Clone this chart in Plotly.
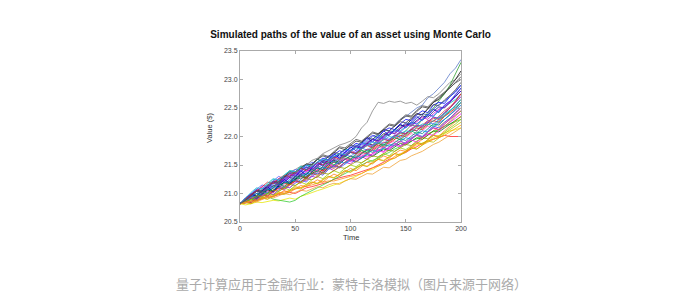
import plotly.graph_objects as go

time_steps = [0, 5, 10, 15, 20, 25, 30, 35, 40, 45, 50, 55, 60, 65, 70, 75, 80, 85, 90, 95,
              100, 105, 110, 115, 120, 125, 130, 135, 140, 145, 150, 155, 160, 165, 170, 175,
              180, 185, 190, 195, 200]

path_01 = [20.82, 20.86, 20.93, 20.97, 21.05, 21.02, 21.1, 21.18, 21.22, 21.3,
           21.27, 21.35, 21.42, 21.4, 21.5, 21.55, 21.6, 21.68, 21.65, 21.72,
           21.8, 21.85, 21.82, 21.92, 22.0, 22.05, 22.12, 22.1, 22.2, 22.3,
           22.35, 22.42, 22.5, 22.55, 22.68, 22.75, 22.85, 22.95, 23.1, 23.2, 23.35]
path_02 = [20.82, 20.88, 20.95, 21.0, 21.08, 21.12, 21.2, 21.25, 21.3, 21.38,
           21.42, 21.48, 21.5, 21.58, 21.62, 21.7, 21.75, 21.8, 21.85, 21.88,
           21.92, 22.0, 22.15, 22.25, 22.45, 22.6, 22.58, 22.62, 22.6, 22.62,
           22.58, 22.6, 22.55, 22.62, 22.7, 22.68, 22.75, 22.85, 22.95, 23.0, 23.1]
path_03 = [20.82, 20.84, 20.92, 20.9, 20.98, 21.06, 21.04, 21.12, 21.2, 21.16,
           21.25, 21.32, 21.28, 21.38, 21.45, 21.42, 21.52, 21.58, 21.55, 21.65,
           21.72, 21.7, 21.8, 21.88, 21.85, 21.95, 22.05, 22.02, 22.12, 22.2,
           22.18, 22.3, 22.4, 22.38, 22.5, 22.6, 22.65, 22.75, 22.88, 23.0, 23.15]
path_04 = [20.82, 20.88, 20.85, 20.94, 21.0, 20.98, 21.06, 21.12, 21.1, 21.18,
           21.24, 21.2, 21.3, 21.36, 21.34, 21.42, 21.5, 21.46, 21.55, 21.62,
           21.6, 21.68, 21.75, 21.72, 21.8, 21.88, 21.85, 21.95, 22.02, 22.0,
           22.1, 22.2, 22.18, 22.3, 22.42, 22.5, 22.62, 22.75, 22.9, 23.1, 23.3]
path_05 = [20.82, 20.83, 20.85, 20.88, 20.9, 20.92, 20.95, 20.98, 21.0, 21.02,
           21.0, 21.05, 21.1, 21.12, 21.15, 21.18, 21.2, 21.25, 21.28, 21.3,
           21.32, 21.35, 21.38, 21.42, 21.45, 21.5, 21.55, 21.6, 21.62, 21.68,
           21.72, 21.78, 21.82, 21.88, 21.92, 21.95, 21.98, 22.02, 22.0, 22.0, 22.0]
path_06 = [20.82, 20.8, 20.82, 20.85, 20.84, 20.86, 20.88, 20.87, 20.9, 20.92,
           20.9, 20.95, 20.98, 21.02, 21.05, 21.08, 21.12, 21.15, 21.18, 21.22,
           21.25, 21.3, 21.35, 21.4, 21.42, 21.48, 21.52, 21.58, 21.62, 21.68,
           21.75, 21.8, 21.85, 21.88, 21.92, 21.98, 22.02, 22.05, 22.1, 22.12, 22.15]
path_07 = [20.82, 20.86, 20.9, 20.88, 20.92, 20.95, 20.9, 20.88, 20.86, 20.85,
           20.88, 20.95, 21.0, 21.05, 21.1, 21.15, 21.2, 21.25, 21.3, 21.35,
           21.4, 21.45, 21.5, 21.55, 21.58, 21.62, 21.68, 21.72, 21.78, 21.82,
           21.88, 21.92, 21.95, 22.0, 22.05, 22.08, 22.12, 22.18, 22.22, 22.25, 22.3]
path_08 = [20.82, 20.84, 20.86, 20.9, 20.92, 20.95, 20.98, 21.0, 21.02, 21.05,
           21.08, 21.1, 21.12, 21.15, 21.18, 21.2, 21.22, 21.22, 21.25, 21.28,
           21.3, 21.32, 21.35, 21.4, 21.45, 21.48, 21.52, 21.58, 21.65, 21.7,
           21.72, 21.8, 21.88, 21.95, 22.02, 22.1, 22.18, 22.25, 22.32, 22.42, 22.5]
path_09 = [20.82, 20.9, 20.95, 21.05, 21.02, 21.1, 21.2, 21.18, 21.28, 21.35,
           21.32, 21.42, 21.5, 21.45, 21.55, 21.62, 21.58, 21.68, 21.75, 21.72,
           21.8, 21.88, 21.85, 21.95, 22.02, 21.98, 22.1, 22.15, 22.12, 22.22,
           22.3, 22.28, 22.38, 22.45, 22.42, 22.55, 22.6, 22.58, 22.7, 22.78, 22.9]
path_10 = [20.82, 20.88, 20.85, 20.92, 20.98, 20.95, 21.05, 21.1, 21.06, 21.15,
           21.22, 21.18, 21.25, 21.3, 21.28, 21.38, 21.45, 21.4, 21.48, 21.55,
           21.52, 21.6, 21.65, 21.6, 21.7, 21.78, 21.74, 21.82, 21.88, 21.84,
           21.9, 21.98, 22.02, 21.98, 22.08, 22.15, 22.12, 22.22, 22.3, 22.38, 22.45]
path_11 = [20.82, 20.92, 20.98, 21.08, 21.05, 21.15, 21.25, 21.22, 21.32, 21.4,
           21.38, 21.48, 21.45, 21.52, 21.6, 21.56, 21.65, 21.62, 21.7, 21.78,
           21.75, 21.82, 21.9, 21.86, 21.95, 22.02, 21.98, 22.05, 22.12, 22.1,
           22.18, 22.25, 22.22, 22.3, 22.38, 22.35, 22.45, 22.52, 22.58, 22.65, 22.75]
path_12 = [20.82, 20.85, 20.92, 20.9, 20.98, 21.05, 21.02, 21.1, 21.18, 21.15,
           21.22, 21.3, 21.28, 21.35, 21.42, 21.4, 21.48, 21.55, 21.52, 21.6,
           21.65, 21.62, 21.7, 21.78, 21.75, 21.82, 21.9, 21.88, 21.95, 22.02,
           22.0, 22.08, 22.15, 22.12, 22.2, 22.28, 22.25, 22.35, 22.42, 22.5, 22.6]
path_13 = [20.82, 20.88, 20.95, 20.92, 21.0, 21.08, 21.05, 21.12, 21.2, 21.18,
           21.25, 21.3, 21.26, 21.35, 21.4, 21.36, 21.45, 21.5, 21.46, 21.55,
           21.6, 21.56, 21.62, 21.68, 21.65, 21.72, 21.78, 21.75, 21.82, 21.88,
           21.85, 21.92, 21.98, 21.95, 22.02, 22.1, 22.08, 22.15, 22.22, 22.28, 22.35]
path_14 = [20.82, 20.86, 20.94, 21.0, 20.98, 21.06, 21.14, 21.12, 21.2, 21.28,
           21.25, 21.34, 21.42, 21.38, 21.48, 21.55, 21.52, 21.6, 21.68, 21.65,
           21.74, 21.82, 21.78, 21.88, 21.95, 21.92, 22.0, 22.08, 22.05, 22.14,
           22.22, 22.2, 22.28, 22.36, 22.34, 22.44, 22.52, 22.5, 22.6, 22.72, 22.85]
path_15 = [20.82, 20.85, 20.82, 20.88, 20.92, 20.9, 20.96, 21.02, 21.0, 21.06,
           21.12, 21.1, 21.16, 21.2, 21.18, 21.25, 21.3, 21.28, 21.34, 21.4,
           21.38, 21.45, 21.5, 21.48, 21.55, 21.6, 21.58, 21.65, 21.7, 21.68,
           21.75, 21.8, 21.78, 21.85, 21.9, 21.95, 21.98, 22.02, 22.08, 22.14, 22.2]
path_16 = [20.82, 20.9, 20.98, 20.95, 21.05, 21.12, 21.1, 21.2, 21.28, 21.25,
           21.35, 21.4, 21.38, 21.46, 21.52, 21.5, 21.58, 21.65, 21.62, 21.7,
           21.76, 21.72, 21.8, 21.86, 21.84, 21.92, 21.98, 21.95, 22.02, 22.08,
           22.05, 22.12, 22.2, 22.18, 22.26, 22.34, 22.32, 22.42, 22.5, 22.6, 22.7]
path_17 = [20.82, 20.88, 20.85, 20.95, 21.02, 21.0, 21.1, 21.15, 21.12, 21.22,
           21.3, 21.26, 21.35, 21.4, 21.36, 21.45, 21.52, 21.48, 21.58, 21.62,
           21.6, 21.68, 21.72, 21.7, 21.78, 21.82, 21.8, 21.88, 21.92, 21.9,
           21.98, 22.05, 22.02, 22.1, 22.18, 22.15, 22.22, 22.3, 22.38, 22.45, 22.55]
path_18 = [20.82, 20.9, 20.98, 20.96, 21.06, 21.15, 21.12, 21.22, 21.3, 21.28,
           21.38, 21.45, 21.42, 21.52, 21.6, 21.56, 21.65, 21.72, 21.7, 21.78,
           21.85, 21.82, 21.9, 21.98, 21.95, 22.04, 22.12, 22.1, 22.18, 22.26,
           22.24, 22.32, 22.4, 22.38, 22.48, 22.56, 22.54, 22.64, 22.72, 22.82, 22.95]
path_19 = [20.82, 20.86, 20.92, 20.9, 20.96, 21.02, 20.98, 21.06, 21.12, 21.1,
           21.18, 21.24, 21.2, 21.3, 21.36, 21.32, 21.42, 21.48, 21.45, 21.52,
           21.58, 21.55, 21.62, 21.7, 21.66, 21.74, 21.8, 21.78, 21.85, 21.92,
           21.88, 21.96, 22.04, 22.0, 22.1, 22.18, 22.15, 22.25, 22.32, 22.42, 22.5]
path_20 = [20.82, 20.92, 20.98, 21.06, 21.02, 21.12, 21.2, 21.16, 21.26, 21.34,
           21.3, 21.4, 21.46, 21.42, 21.5, 21.58, 21.55, 21.62, 21.7, 21.66,
           21.75, 21.82, 21.8, 21.88, 21.95, 21.92, 22.0, 22.08, 22.05, 22.14,
           22.2, 22.18, 22.26, 22.34, 22.3, 22.4, 22.48, 22.52, 22.6, 22.7, 22.8]
path_21 = [20.82, 20.85, 20.9, 20.88, 20.94, 21.0, 20.97, 21.04, 21.1, 21.06,
           21.14, 21.2, 21.16, 21.24, 21.3, 21.26, 21.34, 21.4, 21.36, 21.44,
           21.5, 21.47, 21.54, 21.6, 21.56, 21.64, 21.7, 21.66, 21.74, 21.8,
           21.77, 21.84, 21.9, 21.87, 21.95, 22.02, 22.0, 22.08, 22.15, 22.22, 22.3]
path_22 = [20.82, 20.9, 20.96, 21.04, 21.1, 21.08, 21.16, 21.24, 21.2, 21.3,
           21.36, 21.33, 21.42, 21.48, 21.44, 21.52, 21.58, 21.55, 21.62, 21.68,
           21.65, 21.72, 21.8, 21.76, 21.84, 21.9, 21.88, 21.95, 22.02, 21.98,
           22.06, 22.12, 22.1, 22.18, 22.25, 22.22, 22.3, 22.38, 22.45, 22.55, 22.65]
path_23 = [20.82, 20.86, 20.84, 20.92, 20.98, 20.96, 21.04, 21.1, 21.08, 21.16,
           21.22, 21.2, 21.28, 21.35, 21.32, 21.4, 21.47, 21.44, 21.52, 21.6,
           21.57, 21.65, 21.72, 21.7, 21.78, 21.85, 21.82, 21.9, 21.98, 21.95,
           22.05, 22.12, 22.1, 22.2, 22.28, 22.26, 22.36, 22.45, 22.52, 22.62, 22.75]
path_24 = [20.82, 20.9, 20.98, 21.05, 21.12, 21.1, 21.2, 21.26, 21.22, 21.3,
           21.36, 21.32, 21.38, 21.44, 21.4, 21.46, 21.52, 21.48, 21.55, 21.6,
           21.56, 21.62, 21.68, 21.64, 21.7, 21.76, 21.72, 21.8, 21.85, 21.82,
           21.88, 21.94, 21.9, 21.98, 22.04, 22.02, 22.1, 22.18, 22.25, 22.32, 22.4]
path_25 = [20.82, 20.88, 20.95, 20.92, 21.0, 21.08, 21.05, 21.14, 21.2, 21.18,
           21.26, 21.34, 21.3, 21.38, 21.45, 21.42, 21.5, 21.56, 21.52, 21.6,
           21.66, 21.62, 21.7, 21.76, 21.72, 21.8, 21.86, 21.83, 21.9, 21.96,
           21.93, 22.0, 22.08, 22.05, 22.14, 22.22, 22.2, 22.3, 22.38, 22.48, 22.6]
path_26 = [20.82, 20.88, 20.96, 21.04, 21.0, 21.1, 21.18, 21.15, 21.24, 21.32,
           21.3, 21.38, 21.46, 21.42, 21.5, 21.58, 21.55, 21.64, 21.7, 21.68,
           21.76, 21.84, 21.8, 21.9, 21.96, 21.93, 22.02, 22.1, 22.08, 22.16,
           22.24, 22.22, 22.32, 22.4, 22.38, 22.48, 22.56, 22.62, 22.7, 22.8, 22.9]
path_27 = [20.82, 20.84, 20.82, 20.88, 20.92, 20.9, 20.95, 21.0, 20.98, 21.04,
           21.1, 21.08, 21.14, 21.2, 21.17, 21.24, 21.3, 21.27, 21.34, 21.4,
           21.37, 21.44, 21.5, 21.47, 21.54, 21.6, 21.57, 21.64, 21.7, 21.67,
           21.74, 21.8, 21.78, 21.85, 21.92, 21.9, 21.98, 22.05, 22.12, 22.18, 22.25]
path_28 = [20.82, 20.9, 20.96, 20.94, 21.02, 21.1, 21.08, 21.16, 21.22, 21.2,
           21.28, 21.36, 21.33, 21.42, 21.48, 21.45, 21.54, 21.6, 21.58, 21.66,
           21.72, 21.7, 21.78, 21.85, 21.82, 21.9, 21.96, 21.93, 22.0, 22.08,
           22.05, 22.14, 22.2, 22.18, 22.26, 22.34, 22.32, 22.42, 22.5, 22.6, 22.7]
path_29 = [20.82, 20.87, 20.93, 21.0, 20.97, 21.05, 21.12, 21.1, 21.18, 21.24,
           21.22, 21.3, 21.36, 21.33, 21.4, 21.46, 21.43, 21.5, 21.56, 21.53,
           21.6, 21.66, 21.63, 21.7, 21.76, 21.73, 21.8, 21.86, 21.84, 21.92,
           21.98, 21.95, 22.04, 22.1, 22.08, 22.16, 22.24, 22.3, 22.38, 22.46, 22.55]
path_30 = [20.82, 20.9, 20.98, 21.06, 21.04, 21.14, 21.22, 21.2, 21.3, 21.38,
           21.36, 21.45, 21.52, 21.5, 21.6, 21.66, 21.63, 21.72, 21.8, 21.77,
           21.85, 21.92, 21.9, 21.98, 22.06, 22.04, 22.12, 22.2, 22.18, 22.28,
           22.36, 22.34, 22.44, 22.52, 22.5, 22.6, 22.68, 22.76, 22.85, 22.95, 23.05]
path_31 = [20.82, 20.92, 21.0, 20.94, 21.05, 21.12, 21.02, 21.15, 21.25, 21.18,
           21.3, 21.4, 21.32, 21.45, 21.55, 21.48, 21.6, 21.7, 21.62, 21.72,
           21.82, 21.75, 21.88, 21.98, 21.9, 22.0, 22.1, 22.02, 22.12, 22.22,
           22.15, 22.25, 22.35, 22.28, 22.38, 22.48, 22.42, 22.55, 22.62, 22.7, 22.8]
path_32 = [20.82, 20.86, 20.94, 20.88, 20.96, 21.05, 20.98, 21.08, 21.15, 21.1,
           21.2, 21.28, 21.22, 21.32, 21.4, 21.34, 21.44, 21.5, 21.45, 21.55,
           21.62, 21.56, 21.65, 21.72, 21.66, 21.75, 21.82, 21.76, 21.85, 21.92,
           21.86, 21.95, 22.02, 21.98, 22.08, 22.15, 22.12, 22.22, 22.3, 22.4, 22.5]
path_33 = [20.82, 20.9, 20.86, 20.96, 21.04, 21.0, 21.1, 21.18, 21.12, 21.22,
           21.3, 21.25, 21.35, 21.42, 21.38, 21.48, 21.55, 21.5, 21.6, 21.66,
           21.6, 21.7, 21.76, 21.72, 21.82, 21.88, 21.84, 21.92, 21.98, 21.94,
           22.02, 22.1, 22.05, 22.15, 22.22, 22.18, 22.28, 22.36, 22.44, 22.54, 22.65]
path_34 = [20.82, 20.84, 20.88, 20.86, 20.92, 20.96, 20.94, 21.0, 21.05, 21.02,
           21.08, 21.14, 21.12, 21.18, 21.24, 21.2, 21.28, 21.34, 21.3, 21.38,
           21.44, 21.4, 21.48, 21.55, 21.52, 21.6, 21.66, 21.62, 21.7, 21.76,
           21.74, 21.82, 21.88, 21.86, 21.94, 22.02, 22.0, 22.1, 22.18, 22.26, 22.35]
path_35 = [20.82, 20.9, 21.0, 21.08, 21.15, 21.12, 21.22, 21.3, 21.26, 21.35,
           21.42, 21.4, 21.48, 21.55, 21.52, 21.6, 21.66, 21.62, 21.7, 21.76,
           21.74, 21.82, 21.88, 21.85, 21.92, 21.98, 21.96, 22.04, 22.1, 22.08,
           22.16, 22.24, 22.22, 22.3, 22.38, 22.36, 22.46, 22.54, 22.62, 22.74, 22.85]
path_36 = [20.82, 20.86, 20.9, 20.96, 20.94, 21.0, 21.06, 21.04, 21.1, 21.16,
           21.14, 21.2, 21.26, 21.24, 21.3, 21.36, 21.34, 21.4, 21.46, 21.44,
           21.5, 21.56, 21.54, 21.6, 21.66, 21.64, 21.7, 21.76, 21.74, 21.8,
           21.86, 21.84, 21.92, 21.98, 21.96, 22.04, 22.12, 22.18, 22.26, 22.36, 22.45]
path_37 = [20.82, 20.9, 20.98, 21.04, 21.12, 21.2, 21.17, 21.26, 21.32, 21.3,
           21.38, 21.44, 21.4, 21.48, 21.54, 21.5, 21.58, 21.64, 21.6, 21.68,
           21.74, 21.7, 21.78, 21.84, 21.8, 21.88, 21.95, 21.92, 22.0, 22.06,
           22.04, 22.12, 22.18, 22.15, 22.24, 22.32, 22.3, 22.4, 22.5, 22.62, 22.75]
path_38 = [20.82, 20.84, 20.86, 20.85, 20.9, 20.94, 20.92, 20.96, 21.0, 20.98,
           21.02, 21.06, 21.04, 21.08, 21.12, 21.1, 21.15, 21.18, 21.16, 21.22,
           21.26, 21.25, 21.3, 21.35, 21.34, 21.4, 21.46, 21.45, 21.52, 21.58,
           21.6, 21.66, 21.7, 21.74, 21.8, 21.86, 21.9, 21.96, 22.02, 22.08, 22.15]
path_39 = [20.82, 20.92, 21.02, 21.1, 21.08, 21.18, 21.26, 21.24, 21.32, 21.4,
           21.38, 21.45, 21.5, 21.48, 21.55, 21.6, 21.58, 21.65, 21.7, 21.68,
           21.74, 21.8, 21.78, 21.84, 21.9, 21.88, 21.94, 22.0, 21.98, 22.05,
           22.1, 22.08, 22.16, 22.22, 22.2, 22.28, 22.34, 22.4, 22.46, 22.52, 22.6]
path_40 = [20.82, 20.88, 20.96, 21.04, 21.02, 21.12, 21.2, 21.18, 21.28, 21.36,
           21.34, 21.44, 21.52, 21.5, 21.6, 21.68, 21.65, 21.74, 21.82, 21.8,
           21.88, 21.95, 21.92, 22.0, 22.08, 22.05, 22.14, 22.22, 22.2, 22.3,
           22.38, 22.36, 22.46, 22.54, 22.52, 22.62, 22.7, 22.78, 22.86, 22.94, 23.0]

paths = [path_01, path_02, path_03, path_04, path_05, path_06, path_07, path_08, path_09, path_10,
         path_11, path_12, path_13, path_14, path_15, path_16, path_17, path_18, path_19, path_20,
         path_21, path_22, path_23, path_24, path_25, path_26, path_27, path_28, path_29, path_30,
         path_31, path_32, path_33, path_34, path_35, path_36, path_37, path_38, path_39, path_40]

path_colors = ["#5a78c8", "#808080", "#000000", "#2ca02c", "#ff2020", "#e6e600", "#33cc33", "#ff8c1a",
               "#0000ff", "#bf00bf", "#00bfbf", "#ff0000", "#008000", "#000080", "#ffa500", "#9933ff",
               "#ff66cc", "#404040", "#3355ff", "#cc00cc", "#99cc00", "#3366ff", "#cc3333", "#ff00ff",
               "#008080", "#1f3fbf", "#bfbf00", "#7f3fbf", "#00a0e0", "#333333", "#0000cc", "#e0409f",
               "#00b050", "#ff7f0e", "#5050ff", "#a0a000", "#d62728", "#f0a030", "#17becf", "#505050"]

title_text = "Simulated paths of the value of an asset using Monte Carlo"
x_title = "Time"
y_title = "Value ($)"
caption_text = "量子计算应用于金融行业：蒙特卡洛模拟（图片来源于网络）"
x_ticks = [0, 50, 100, 150, 200]
y_ticks = [20.5, 21.0, 21.5, 22.0, 22.5, 23.0, 23.5]

fig = go.Figure()
for vals, col in zip(paths, path_colors):
    fig.add_trace(go.Scatter(x=time_steps[:len(vals)], y=vals, mode="lines",
                             line=dict(color=col, width=0.9), opacity=0.85,
                             showlegend=False, hoverinfo="skip"))

axis_common = dict(showgrid=False, zeroline=False, showline=True, linecolor="#aaaaaa",
                   linewidth=1, mirror="ticks", ticks="inside", ticklen=3,
                   tickcolor="#aaaaaa", tickfont=dict(family="Liberation Sans", size=7, color="#444444"))

fig.update_xaxes(range=[0, 200], tickvals=x_ticks, ticktext=[str(v) for v in x_ticks], **axis_common)
fig.update_yaxes(range=[20.5, 23.5], tickvals=y_ticks, ticktext=[f"{v:.1f}" for v in y_ticks], **axis_common)

fig.update_layout(
    width=696, height=304,
    margin=dict(l=240, r=235, t=51, b=82),
    paper_bgcolor="white", plot_bgcolor="white",
    title=dict(text="<b>" + title_text + "</b>", x=0.5036, xanchor="center",
               y=1 - 34 / 304, yanchor="middle",
               font=dict(family="Liberation Sans", size=10, color="#111111")),
    annotations=[
        dict(text=x_title, xref="paper", yref="paper", x=0.5, y=(222 - 237) / 171,
             xanchor="center", yanchor="middle", showarrow=False,
             font=dict(family="Liberation Sans", size=7.5, color="#333333")),
        dict(text=y_title, xref="paper", yref="paper", x=(209 - 240) / 221, y=(222 - 128) / 171,
             xanchor="center", yanchor="middle", textangle=-90, showarrow=False,
             font=dict(family="Liberation Sans", size=7.5, color="#333333")),
        dict(text=caption_text, xref="paper", yref="paper", x=(351 - 240) / 221, y=(222 - 283) / 171,
             xanchor="center", yanchor="middle", showarrow=False,
             font=dict(family="Noto Sans CJK SC", size=13, color="#aaaaaa")),
    ],
)

fig.write_html("out.html")
